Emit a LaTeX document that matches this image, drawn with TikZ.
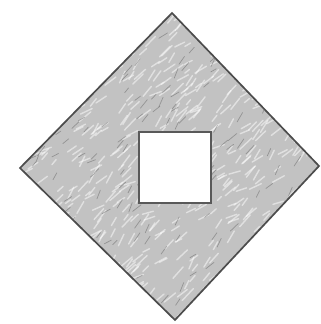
\documentclass[tikz,border=0pt]{standalone}
\usepackage{xcolor}
\usepackage{tikz}
\usetikzlibrary{calc}

\begin{document}
\begin{tikzpicture}[
    x=0.025cm, y=-0.025cm,
    outline/.style={draw=black!70, line width=1.2pt, line join=miter},
    stone/.style={fill=gray!48},
    grain/.style={white, line width=1pt, opacity=0.5, line cap=round},
    darkgrain/.style={gray!30!black, line width=0.5pt, opacity=0.3, line cap=round},
]
\useasboundingbox (0,0) rectangle (321,324);

% -------- outer diamond --------
\coordinate (top)    at (172,13);
\coordinate (right)  at (319,166);
\coordinate (bottom) at (175,320);
\coordinate (left)   at (20,168);

\path[stone] (top) -- (right) -- (bottom) -- (left) -- cycle;

% rough grain inside the diamond
\begin{scope}
  \clip (top) -- (right) -- (bottom) -- (left) -- cycle;
  \pgfmathsetseed{11}
  \foreach \i in {1,...,650}{
    \pgfmathsetmacro{\px}{20+300*rnd}
    \pgfmathsetmacro{\py}{13+307*rnd}
    \draw[grain] (\px,\py) -- ++(4+8*rnd,-3-9*rnd);
  }
  \foreach \i in {1,...,220}{
    \pgfmathsetmacro{\px}{20+300*rnd}
    \pgfmathsetmacro{\py}{13+307*rnd}
    \draw[darkgrain] (\px,\py) -- ++(3+6*rnd,-3-7*rnd);
  }
\end{scope}

\draw[outline] (top) -- (right) -- (bottom) -- (left) -- cycle;

% -------- square hole --------
\coordinate (holeA) at (139,132);
\coordinate (holeB) at (211,203);
\draw[outline, draw=black!65, fill=white] (holeA) rectangle (holeB);

\end{tikzpicture}
\end{document}
